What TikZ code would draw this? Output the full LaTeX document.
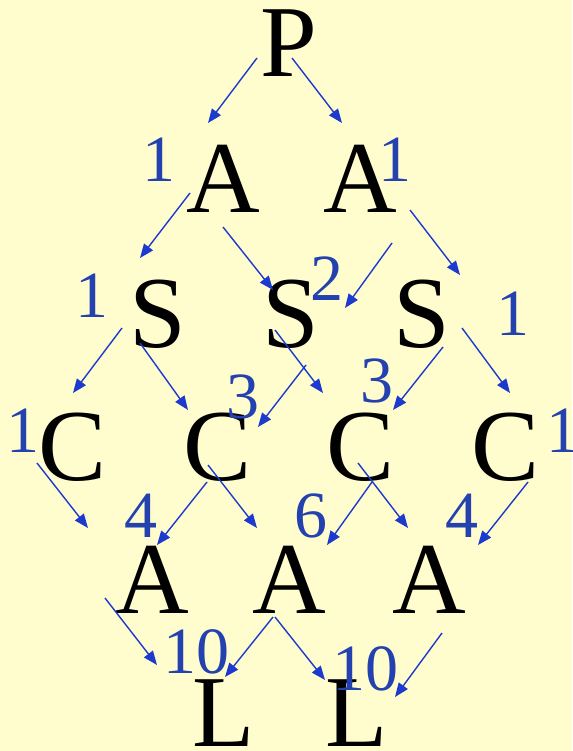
\documentclass[tikz,border=0pt]{standalone}
\usepackage{fontspec}
\setmainfont{Liberation Serif}
\usetikzlibrary{arrows.meta}
\definecolor{bgyellow}{RGB}{255,252,205}
\definecolor{arrowblue}{RGB}{28,58,205}
\definecolor{numblue}{RGB}{35,65,175}
\begin{document}
\begin{tikzpicture}[x=1pt,y=-1pt,
    letter/.style={inner sep=0pt,anchor=base,font=\fontsize{102}{102}\selectfont},
    num/.style={inner sep=0pt,anchor=base,text=numblue,font=\fontsize{66}{66}\selectfont},
    arr/.style={-{Triangle[length=14pt,width=11pt]},line width=1.4pt,arrowblue}]
        % Draw background
        \useasboundingbox (0,0) rectangle (572,751);
        \fill[bgyellow] (0,0) rectangle (572,751);
        % Draw letters
        \node[letter] (P) at (289,77) {P};
        \node[letter] (A1) at (223,212) {A};
        \node[letter] (A2) at (360,212) {A};
        \node[letter] (S1) at (158,347) {S};
        \node[letter] (S2) at (291,347) {S};
        \node[letter] (S3) at (422,347) {S};
        \node[letter] (C1) at (73,480) {C};
        \node[letter] (C2) at (218,480) {C};
        \node[letter] (C3) at (361,480) {C};
        \node[letter] (C4) at (506,480) {C};
        \node[letter] (A3) at (152,613) {A};
        \node[letter] (A4) at (289,613) {A};
        \node[letter] (A5) at (429,613) {A};
        \node[letter] (L1) at (224,746) {L};
        \node[letter] (L2) at (357,746) {L};
        % Draw path counts
        \node[num] (nA1) at (159,182) {1};
        \node[num] (nA2) at (395,182) {1};
        \node[num] (nS1) at (92,317) {1};
        \node[num] (nS2) at (327,300) {2};
        \node[num] (nS3) at (513,335) {1};
        \node[num] (nC1) at (23,452) {1};
        \node[num] (nC2) at (243,418) {3};
        \node[num] (nC3) at (377,402) {3};
        \node[num] (nC4) at (563,452) {1};
        \node[num] (nA3) at (141,537) {4};
        \node[num] (nA4) at (311,537) {6};
        \node[num] (nA5) at (462,537) {4};
        \node[num] (nL1) at (196,673) {10};
        \node[num] (nL2) at (365,690) {10};
        % Draw arrows from P to the A row
        \draw[arr] ([shift={(-32,-19)}]P.base) -- ([shift={(-15,-89)}]A1.base);
        \draw[arr] ([shift={(3,-19)}]P.base) -- ([shift={(-18,-89)}]A2.base);
        % Draw arrows to the S row
        \draw[arr] ([shift={(-33,-19)}]A1.base) -- ([shift={(-18,-89)}]S1.base);
        \draw[arr] ([shift={(0,15)}]A1.base) -- ([shift={(-18,-57)}]S2.base);
        \draw[arr] ([shift={(32,31)}]A2.base) -- ([shift={(54,-39)}]S2.base);
        \draw[arr] ([shift={(50,-2)}]A2.base) -- ([shift={(38,-72)}]S3.base);
        % Draw arrows to the C row
        \draw[arr] ([shift={(-36,-19)}]S1.base) -- ([shift={(0,-87)}]C1.base);
        \draw[arr] ([shift={(-18,-4)}]S1.base) -- ([shift={(-30,-70)}]C2.base);
        \draw[arr] ([shift={(15,18)}]S2.base) -- ([shift={(40,-53)}]C2.base);
        \draw[arr] ([shift={(-16,-17)}]S2.base) -- ([shift={(-38,-87)}]C3.base);
        \draw[arr] ([shift={(21,0)}]S3.base) -- ([shift={(32,-70)}]C3.base);
        \draw[arr] ([shift={(40,-19)}]S3.base) -- ([shift={(4,-87)}]C4.base);
        % Draw arrows to the second A row
        \draw[arr] ([shift={(-36,-17)}]C1.base) -- ([shift={(-64,-85)}]A3.base);
        \draw[arr] ([shift={(-11,2)}]C2.base) -- ([shift={(5,-68)}]A3.base);
        \draw[arr] ([shift={(-10,-15)}]C2.base) -- ([shift={(-32,-85)}]A4.base);
        \draw[arr] ([shift={(11,2)}]C3.base) -- ([shift={(38,-68)}]A4.base);
        \draw[arr] ([shift={(-3,-17)}]C3.base) -- ([shift={(-21,-85)}]A5.base);
        \draw[arr] ([shift={(22,2)}]C4.base) -- ([shift={(49,-68)}]A5.base);
        % Draw arrows to the L row
        \draw[arr] ([shift={(-47,-15)}]A3.base) -- ([shift={(-67,-81)}]L1.base);
        \draw[arr] ([shift={(-16,4)}]A4.base) -- ([shift={(1,-69)}]L1.base);
        \draw[arr] ([shift={(-14,4)}]A4.base) -- ([shift={(-32,-66)}]L2.base);
        \draw[arr] ([shift={(13,20)}]A5.base) -- ([shift={(38,-49)}]L2.base);
    \end{tikzpicture}
\end{document}
